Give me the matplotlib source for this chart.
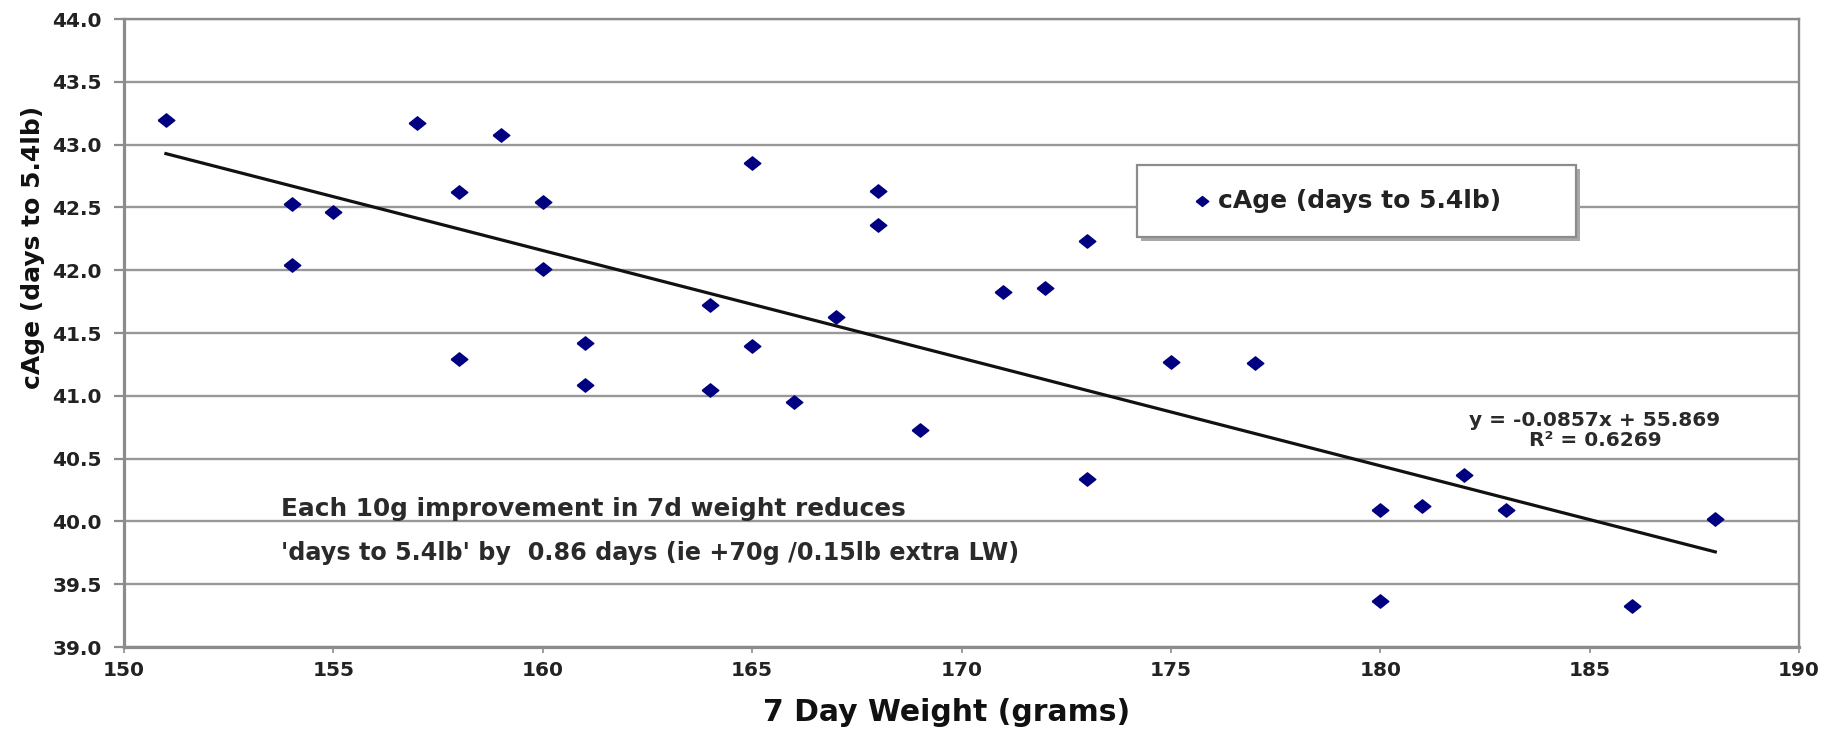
import numpy as np
import matplotlib
matplotlib.use('Agg')
import matplotlib.pyplot as plt
from matplotlib.patches import Rectangle

# 7 day weight (g) vs days to 5.4lb
weight = [151, 154, 154, 155, 157, 158, 158, 159, 160, 160, 161, 161,
          164, 164, 165, 165, 166, 167, 168, 168, 169, 171, 172, 173,
          173, 175, 177, 180, 180, 181, 182, 183, 186, 188]
cage = [43.20, 42.53, 42.04, 42.46, 43.17, 42.62, 41.29, 43.08, 42.54,
        42.01, 41.42, 41.09, 41.72, 41.05, 42.85, 41.40, 40.95, 41.63,
        42.63, 42.36, 40.73, 41.83, 41.86, 42.23, 40.34, 41.27, 41.26,
        40.09, 39.37, 40.12, 40.37, 40.09, 39.33, 40.02]

# trendline as printed on the chart
slope, intercept = -0.0857, 55.869
r2 = 0.6269

xticks = np.arange(150, 191, 5)
yticks = np.arange(39.0, 44.01, 0.5)

plt.rcParams['font.family'] = ['DejaVu Sans']
txt_c = '#222222'
grid_c = '#989898'
navy = '#000080'
# excel style diamond, a bit wider than tall
diamond = [(-1, 0), (0, 0.8), (1, 0), (0, -0.8), (-1, 0)]

fig = plt.figure(figsize=(18.35, 7.32), dpi=100)
ax = fig.add_axes([0.0676, 0.1161, 0.9128, 0.8579])

ax.plot(weight, cage, ls='none', marker=diamond, ms=12, color=navy, zorder=3)

xl = np.array([min(weight), max(weight)])
ax.plot(xl, slope * xl + intercept, color='#111111', lw=2.3, zorder=2)

ax.set_xlim(150, 190)
ax.set_ylim(39, 44)
ax.set_xticks(xticks)
ax.set_yticks(yticks)
ax.set_xticklabels([str(v) for v in xticks])
ax.set_yticklabels(['%.1f' % v for v in yticks])
ax.yaxis.grid(True, color=grid_c, lw=1.7)
ax.set_axisbelow(True)

for s in ax.spines.values():
    s.set_color('#8c8c8c')
    s.set_linewidth(1.7)
ax.spines['left'].set_linewidth(2.3)
ax.spines['bottom'].set_linewidth(2.3)

ax.tick_params(axis='x', direction='out', length=4, width=1.2, color='#8c8c8c',
               pad=6, labelsize=14.5, labelcolor=txt_c)
ax.tick_params(axis='y', direction='out', length=7, width=1.6, color='#8c8c8c',
               pad=9, labelsize=14.5, labelcolor=txt_c)
for lab in ax.get_xticklabels() + ax.get_yticklabels():
    lab.set_fontweight('bold')

ax.set_xlabel('7 Day Weight (grams)', fontsize=21.5, fontweight='bold',
              color='#111111', va='center')
ax.xaxis.set_label_coords(0.491, -0.105)
ax.set_ylabel('cAge (days to 5.4lb)', fontsize=18, fontweight='bold',
              color='#111111', va='center')
ax.yaxis.set_label_coords(-0.0543, 0.637)

# legend box
lx0, ly0, lw_, lh_ = 0.605, 0.653, 0.262, 0.115
ax.add_patch(Rectangle((lx0 + 0.002, ly0 - 0.007), lw_, lh_, transform=ax.transAxes,
                       facecolor='#a8a8a8', edgecolor='none', zorder=4, clip_on=False))
ax.add_patch(Rectangle((lx0, ly0), lw_, lh_, transform=ax.transAxes,
                       facecolor='white', edgecolor='#8c8c8c', lw=1.6, zorder=5,
                       clip_on=False))
ax.plot([0.6436], [0.710], transform=ax.transAxes, ls='none', marker=diamond,
        ms=9, color=navy, zorder=6)
ax.text(0.6531, 0.710, 'cAge (days to 5.4lb)', transform=ax.transAxes,
        fontsize=18, fontweight='bold', color=txt_c, ha='left', va='center',
        zorder=6)

# regression equation
ax.text(0.8781, 0.345, 'y = -0.0857x + 55.869\nR\u00b2 = %.4f' % r2,
        transform=ax.transAxes, ha='center', va='center', fontsize=14.5,
        fontweight='bold', color='#2a2a2a', linespacing=1.05, zorder=4)

# note
ax.text(153.75, 40.10, 'Each 10g improvement in 7d weight reduces',
        fontsize=17.8, fontweight='bold', color='#2a2a2a', ha='left', va='center',
        zorder=4)
ax.text(153.75, 39.75, "'days to 5.4lb' by  0.86 days (ie +70g /0.15lb extra LW)",
        fontsize=17.2, fontweight='bold', color='#2a2a2a', ha='left', va='center',
        zorder=4)

fig.savefig('out.png', dpi=100)
